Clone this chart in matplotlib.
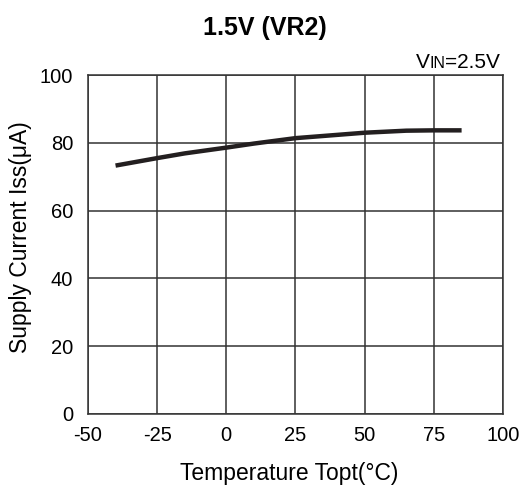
import matplotlib
matplotlib.use("Agg")
import matplotlib.pyplot as plt
from matplotlib.offsetbox import TextArea, HPacker, AnchoredOffsetbox

plt.rcParams['font.family'] = ['Liberation Sans', 'DejaVu Sans']

temps = [-40, -25, -15, 0, 10, 25, 50, 65, 75, 85]
iss = [73.3, 75.5, 76.9, 78.6, 79.8, 81.4, 83.0, 83.6, 83.7, 83.7]
xticks = [-50, -25, 0, 25, 50, 75, 100]
xticklabels = ['-50', '-25', '0', '25', '50', '75', '100']
yticks = [0, 20, 40, 60, 80, 100]
yticklabels = ['0', '20', '40', '60', '80', '100']

fig = plt.figure(figsize=(5.23, 4.91), dpi=100)
ax = fig.add_axes([0.168, 0.157, 0.794, 0.690])
ax.plot(temps, iss, color='#231f20', lw=3.2, solid_capstyle='butt')
ax.set_xlim(-50, 100)
ax.set_ylim(0, 100)
ax.set_xticks(xticks)
ax.set_xticklabels(xticklabels)
ax.set_yticks(yticks)
ax.set_yticklabels(yticklabels)
ax.grid(True, color='#333333', lw=1.1)
for s in ax.spines.values():
    s.set_color('#333333')
    s.set_linewidth(1.1)
ax.tick_params(length=0, labelsize=14.5, colors='black')
ax.tick_params(axis='x', pad=8.5)
ax.tick_params(axis='y', pad=10.5)
ax.set_xlabel('Temperature Topt(\u00b0C)', fontsize=16.5)
ax.set_ylabel('Supply Current Iss(\u03bcA)', fontsize=16.5)
ax.xaxis.set_label_coords(0.484, -0.142)
ax.yaxis.set_label_coords(-0.135, 0.522)
fig.text(0.507, 0.943, '1.5V (VR2)', ha='center', va='center', fontsize=18, fontweight='bold')

parts = HPacker(children=[
    TextArea('V', textprops=dict(fontsize=15)),
    TextArea('IN', textprops=dict(fontsize=11.5)),
    TextArea('=2.5V', textprops=dict(fontsize=15)),
], align='baseline', pad=0, sep=0)
box = AnchoredOffsetbox(loc='lower right', child=parts, pad=0, borderpad=0.2,
                        frameon=False, bbox_to_anchor=(1.0, 1.0),
                        bbox_transform=ax.transAxes)
ax.add_artist(box)
fig.savefig('out.png', dpi=100)
